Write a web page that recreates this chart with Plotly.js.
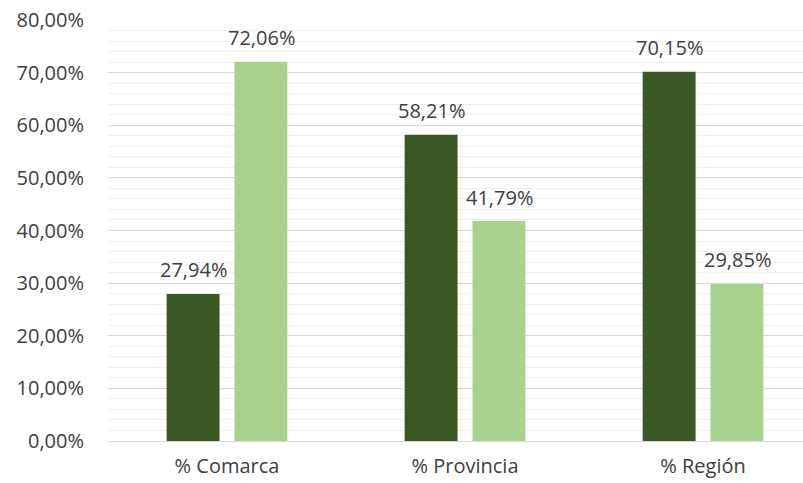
<!DOCTYPE html>
<html>
<head>
<meta charset="utf-8">
<script src="https://cdn.plot.ly/plotly-3.0.1.min.js"></script>
<style>html,body{margin:0;padding:0;background:#fff;}#chart{width:803px;height:483px;}</style>
</head>
<body>
<div id="chart"></div>
<script>
const categories = ['% Comarca', '% Provincia', '% Región'];
const seriesDark = [27.94, 58.21, 70.15];
const seriesLight = [72.06, 41.79, 29.85];
const yTicks = [0, 10, 20, 30, 40, 50, 60, 70, 80];

const fmt = v => v.toFixed(2).replace('.', ',') + '%';
const font = {family: '"Open Sans", sans-serif', size: 20, color: '#404040'};

const traces = [
  {type: 'bar', x: categories, y: seriesDark, marker: {color: '#3b5724'}, hoverinfo: 'none'},
  {type: 'bar', x: categories, y: seriesLight, marker: {color: '#a9d18e'}, hoverinfo: 'none'}
];

const annotations = [];
[[seriesDark, -34], [seriesLight, 34]].forEach(([vals, dx]) => {
  vals.forEach((v, i) => {
    annotations.push({
      xref: 'x', yref: 'y', x: categories[i], y: v,
      text: fmt(v), showarrow: false,
      xanchor: 'center', yanchor: 'middle',
      xshift: dx, yshift: 24,
      font: font
    });
  });
});

const layout = {
  width: 803, height: 483,
  margin: {l: 108, r: 0, t: 20, b: 42},
  showlegend: false,
  barmode: 'group',
  bargap: 0.43,
  bargroupgap: 0.22,
  font: font,
  paper_bgcolor: '#ffffff',
  plot_bgcolor: '#ffffff',
  annotations: annotations,
  xaxis: {
    type: 'category',
    range: [-0.5, 2.42],
    showgrid: false,
    showline: true,
    linecolor: '#d9d9d9',
    linewidth: 1,
    ticks: '',
    tickfont: font,
    ticklabelstandoff: 7
  },
  yaxis: {
    range: [0, 80],
    tickmode: 'array',
    tickvals: yTicks,
    ticktext: yTicks.map(fmt),
    showgrid: true,
    gridcolor: '#d9d9d9',
    gridwidth: 1,
    zeroline: false,
    showline: false,
    ticks: '',
    tickfont: font,
    ticklabelstandoff: 23,
    minor: {dtick: 2, showgrid: true, gridcolor: '#efefef', gridwidth: 1}
  }
};

Plotly.newPlot('chart', traces, layout, {displayModeBar: false, staticPlot: true});
</script>
</body>
</html>
